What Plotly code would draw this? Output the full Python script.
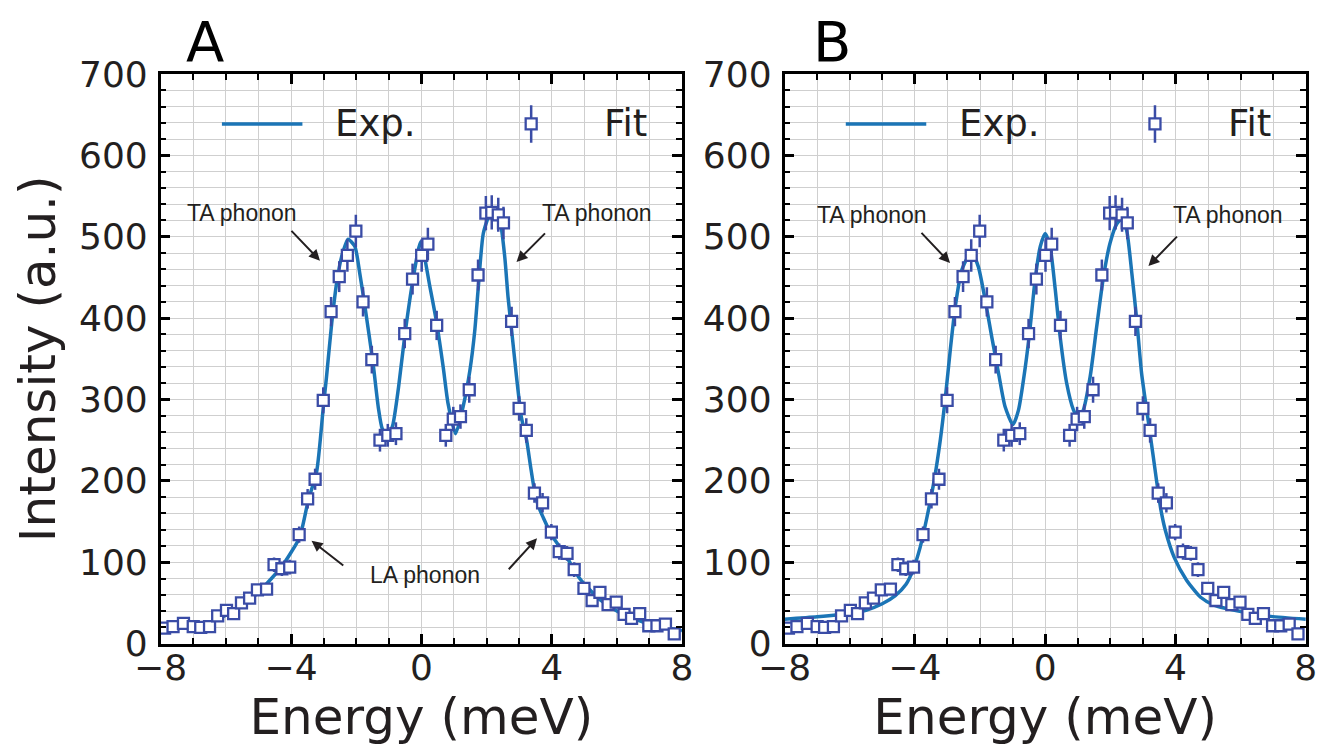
import plotly.graph_objects as go

# ---- measured spectrum (shared by both panels) ----
energy = [-7.88, -7.62, -7.30, -7.00, -6.77, -6.50, -6.25, -5.98, -5.76, -5.52,
          -5.27, -5.03, -4.75, -4.52, -4.28, -4.04, -3.75, -3.49, -3.26, -3.01,
          -2.77, -2.52, -2.27, -2.01, -1.79, -1.52, -1.27, -1.03, -0.78, -0.51,
          -0.27, 0.01, 0.20, 0.47, 0.75, 0.98, 1.20, 1.47, 1.74, 1.98,
          2.16, 2.36, 2.52, 2.77, 3.00, 3.22, 3.47, 3.72, 3.99, 4.23,
          4.47, 4.69, 4.99, 5.24, 5.48, 5.73, 5.98, 6.22, 6.45, 6.70,
          6.98, 7.23, 7.49, 7.76]
intensity = [19, 21, 25, 21, 20, 21, 34, 41, 37, 50,
             56, 66, 67, 97, 92, 94, 134, 178, 202, 299,
             408, 451, 477, 507, 420, 349, 250, 256, 258, 381,
             448, 477, 491, 391, 256, 276, 279, 312, 453, 529,
             530, 527, 517, 396, 289, 262, 185, 173, 137, 113,
             111, 91, 68, 53, 63, 48, 51, 36, 31, 37,
             22, 22, 24, 12]
intensity_err = [4, 4, 4.5, 4, 4, 4, 5, 6, 5.5, 6,
                 7, 7, 7, 9, 9, 9, 10, 12, 13, 16,
                 18, 19, 20, 20, 18, 17, 14, 14, 14, 18,
                 19, 20, 20, 18, 14, 15, 15, 16, 19, 21,
                 21, 21, 20, 18, 15, 15, 12, 12, 10, 10,
                 9, 9, 7, 7, 7, 6, 6, 5, 5, 5,
                 4, 4, 4, 3]

# ---- model curve, panel A ----
curve_a_x = [-8.0, -7.5, -7.0, -6.5, -6.0, -5.5, -5.0, -4.6, -4.3, -4.0,
             -3.73, -3.47, -3.21, -3.01, -2.91, -2.75, -2.6, -2.45, -2.25, -2.04,
             -1.89, -1.73, -1.48, -1.32, -1.2, -1.03, -0.88, -0.7, -0.51, -0.25,
             -0.02, 0.26, 0.47, 0.67, 0.82, 1.05, 1.28, 1.49, 1.64, 1.74,
             1.9, 2.1, 2.2, 2.41, 2.56, 2.66, 2.77, 2.92, 3.07, 3.23,
             3.35, 3.48, 3.6, 3.74, 3.99, 4.45, 4.86, 5.48, 6.09, 6.91,
             7.5, 8.0]
curve_a_y = [17, 19, 22, 26, 35, 47, 63, 80, 94, 112,
             131, 176, 212, 290, 328, 394, 443, 475, 497, 488,
             455, 414, 344, 290, 264, 255, 268, 315, 378, 449,
             494, 439, 394, 340, 295, 258, 291, 336, 385, 434,
             504, 529, 535, 520, 475, 426, 385, 328, 278, 250,
             218, 186, 168, 155, 134, 107, 80, 54, 38, 25,
             20, 16]

# ---- model curve, panel B ----
curve_b_x = [-8.0, -7.0, -6.0, -5.5, -5.0, -4.6, -4.27, -4.06, -3.84, -3.63,
             -3.41, -3.22, -3.07, -2.91, -2.76, -2.56, -2.35, -2.25, -2.05, -1.84,
             -1.64, -1.43, -1.23, -0.99, -0.82, -0.61, -0.46, -0.31, -0.15, 0.0,
             0.15, 0.31, 0.46, 0.66, 0.87, 1.02, 1.17, 1.38, 1.58, 1.79,
             1.99, 2.2, 2.35, 2.5, 2.66, 2.81, 2.96, 3.17, 3.3, 3.42,
             3.55, 3.69, 3.96, 4.34, 4.77, 5.2, 6.06, 6.92, 8.0]
curve_b_y = [30, 33, 37, 41, 49, 59, 73, 90, 118, 155,
             200, 250, 300, 362, 414, 459, 477, 481, 463, 422,
             377, 332, 291, 269, 287, 340, 389, 447, 488, 504,
             488, 435, 377, 320, 287, 277, 287, 328, 389, 451,
             492, 516, 522, 508, 455, 398, 332, 272, 235, 200,
             165, 139, 106, 78, 57, 47, 39, 33.5, 30]

x_ticks = [-8, -4, 0, 4, 8]
y_ticks = [0, 100, 200, 300, 400, 500, 600, 700]

LINE_COLOR = "#1b75b6"
MARK_COLOR = "#3a4ca6"
TEXT_COLOR = "#231f20"
GRID_COLOR = "#cfcfcf"
FONT = "DejaVu Sans"

fig = go.Figure()

for xa, ya, cx, cy in [("x", "y", curve_a_x, curve_a_y),
                       ("x2", "y2", curve_b_x, curve_b_y)]:
    fig.add_trace(go.Scatter(
        x=cx, y=cy, mode="lines", xaxis=xa, yaxis=ya,
        line=dict(color=LINE_COLOR, width=3.5, shape="spline", smoothing=0.6),
        showlegend=False, hoverinfo="skip"))
    fig.add_trace(go.Scatter(
        x=energy, y=intensity, mode="markers", xaxis=xa, yaxis=ya,
        marker=dict(symbol="square", size=11, color="white",
                    line=dict(color=MARK_COLOR, width=2.3)),
        error_y=dict(type="data", array=intensity_err, visible=True,
                     color=MARK_COLOR, thickness=2.5, width=0),
        showlegend=False))
    # legend glyph for the data series
    fig.add_trace(go.Scatter(
        x=[3.37], y=[638.6], mode="markers", xaxis=xa, yaxis=ya,
        marker=dict(symbol="square", size=11, color="white",
                    line=dict(color=MARK_COLOR, width=2.3)),
        error_y=dict(type="data", array=[23], visible=True,
                     color=MARK_COLOR, thickness=2.5, width=0),
        showlegend=False, hoverinfo="skip"))

axis_common = dict(
    showline=True, linecolor="black", linewidth=2.5, mirror="allticks",
    ticks="inside", ticklen=10, tickwidth=2.5, tickcolor="black",
    showgrid=True, gridcolor=GRID_COLOR, gridwidth=1.2, zeroline=False,
    automargin=False,
    tickfont=dict(family=FONT, size=36, color=TEXT_COLOR),
)
x_minor = dict(dtick=1, ticks="inside", ticklen=6, tickwidth=2,
               tickcolor="black", showgrid=True,
               gridcolor=GRID_COLOR, gridwidth=1.2)
y_minor = dict(dtick=20, ticks="inside", ticklen=6, tickwidth=2,
               tickcolor="black", showgrid=True,
               gridcolor=GRID_COLOR, gridwidth=1.2)
x_title = dict(text="Energy (meV)", standoff=4,
               font=dict(family=FONT, size=50, color=TEXT_COLOR))

fig.update_layout(
    width=1319, height=752,
    margin=dict(l=0, r=0, t=0, b=0, autoexpand=False),
    paper_bgcolor="white", plot_bgcolor="white",
    font=dict(family=FONT, color=TEXT_COLOR),
    xaxis=dict(domain=[0.1218, 0.5171], range=[-8, 8], tickvals=x_ticks,
               anchor="y", minor=x_minor, title=x_title,
               ticklabelstandoff=-10, **axis_common),
    xaxis2=dict(domain=[0.5948, 0.9900], range=[-8, 8], tickvals=x_ticks,
                anchor="y2", minor=x_minor, title=x_title,
                ticklabelstandoff=-10, **axis_common),
    yaxis=dict(domain=[0.1441, 0.9016], range=[0, 700], tickvals=y_ticks,
               anchor="x", minor=y_minor, ticklabelstandoff=3,
               title=dict(text="Intensity (a.u.)", standoff=8,
                          font=dict(family=FONT, size=50, color=TEXT_COLOR)),
               **axis_common),
    yaxis2=dict(domain=[0.1441, 0.9016], range=[0, 700], tickvals=y_ticks,
                anchor="x2", minor=y_minor, ticklabelstandoff=3,
                **axis_common),
)

anns = []
# panel letters
anns.append(dict(text="A", xref="paper", yref="paper", x=0.1554, y=1 - 41 / 752,
                 xanchor="center", yanchor="middle", showarrow=False,
                 font=dict(family=FONT, size=56, color="black")))
anns.append(dict(text="B", xref="paper", yref="paper", x=0.6308, y=1 - 41 / 752,
                 xanchor="center", yanchor="middle", showarrow=False,
                 font=dict(family=FONT, size=56, color="black")))

label_font = dict(family="Liberation Sans", size=23, color=TEXT_COLOR)
for xr, yr in [("x", "y"), ("x2", "y2")]:
    # legend entries
    anns.append(dict(text="Exp.", xref=xr, yref=yr, x=-2.72, y=638.6,
                     xanchor="left", yanchor="middle", showarrow=False,
                     font=dict(family=FONT, size=37, color=TEXT_COLOR)))
    anns.append(dict(text="Fit", xref=xr, yref=yr, x=5.55, y=638.6,
                     xanchor="left", yanchor="middle", showarrow=False,
                     font=dict(family=FONT, size=37, color=TEXT_COLOR)))

# phonon labels
anns += [
    dict(text="TA phonon", xref="x", yref="y", x=-5.51, y=529, showarrow=False,
         font=label_font),
    dict(text="TA phonon", xref="x", yref="y", x=5.38, y=529, showarrow=False,
         font=label_font),
    dict(text="LA phonon", xref="x", yref="y", x=0.11, y=84, showarrow=False,
         font=label_font),
    dict(text="TA phonon", xref="x2", yref="y2", x=-5.31, y=527, showarrow=False,
         font=label_font),
    dict(text="TA phonon", xref="x2", yref="y2", x=5.61, y=527, showarrow=False,
         font=label_font),
]
# arrows: (head, tail)
arrows_a = [((-3.11, 470.6), (-4.03, 509)), ((2.92, 469), (3.84, 506)),
            ((-3.37, 126.5), (-2.35, 94.5)), ((3.55, 129.4), (2.64, 89.6))]
arrows_b = [((-2.92, 467.7), (-3.84, 506.6)), ((3.17, 464), (4.09, 502))]
for (xr, yr), arrows in [(("x", "y"), arrows_a), (("x2", "y2"), arrows_b)]:
    for (hx, hy), (tx, ty) in arrows:
        anns.append(dict(text="", xref=xr, yref=yr, x=hx, y=hy,
                         axref=xr, ayref=yr, ax=tx, ay=ty, showarrow=True,
                         arrowhead=2, arrowsize=1.1, arrowwidth=2,
                         arrowcolor=TEXT_COLOR, standoff=0))

fig.update_layout(annotations=anns)

# legend line samples
for xr, yr in [("x", "y"), ("x2", "y2")]:
    fig.add_shape(type="line", xref=xr, yref=yr, x0=-6.12, x1=-3.65,
                  y0=638.6, y1=638.6, line=dict(color=LINE_COLOR, width=3.5))

fig.write_html("out.html")
